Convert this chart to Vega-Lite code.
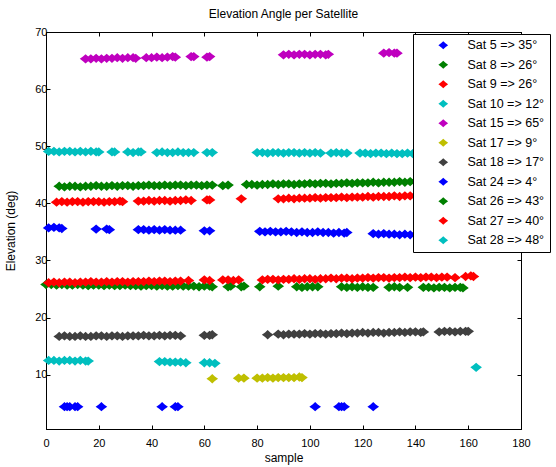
{
  "$schema": "https://vega.github.io/schema/vega-lite/v6.json",
  "width": 475,
  "height": 397,
  "autosize": "none",
  "padding": {"left": 46, "top": 32, "right": 35, "bottom": 38},
  "title": {
    "text": "Elevation Angle per Satellite",
    "fontSize": 12,
    "fontWeight": "normal",
    "font": "Liberation Sans",
    "color": "black",
    "offset": 5
  },
  "layer": [
    {
      "data": {
        "values": [
          {"k": 5, "x": 1, "y": 35.7}, {"k": 5, "x": 3, "y": 35.8}, {"k": 5, "x": 5, "y": 35.7}, {"k": 5, "x": 6, "y": 35.6},
          {"k": 5, "x": 19, "y": 35.5}, {"k": 5, "x": 23, "y": 35.5}, {"k": 5, "x": 24, "y": 35.4},
          {"k": 5, "x": 35, "y": 35.4}, {"k": 5, "x": 37, "y": 35.4}, {"k": 5, "x": 39, "y": 35.3}, {"k": 5, "x": 41, "y": 35.4},
          {"k": 5, "x": 43, "y": 35.3}, {"k": 5, "x": 45, "y": 35.4}, {"k": 5, "x": 47, "y": 35.3}, {"k": 5, "x": 49, "y": 35.3},
          {"k": 5, "x": 51, "y": 35.3}, {"k": 5, "x": 60, "y": 35.2}, {"k": 5, "x": 62, "y": 35.2},
          {"k": 5, "x": 81, "y": 35.1}, {"k": 5, "x": 83, "y": 35.0}, {"k": 5, "x": 85, "y": 35.1}, {"k": 5, "x": 87, "y": 35.0},
          {"k": 5, "x": 89, "y": 35.0}, {"k": 5, "x": 91, "y": 35.1}, {"k": 5, "x": 93, "y": 35.0}, {"k": 5, "x": 95, "y": 34.9},
          {"k": 5, "x": 97, "y": 35.0}, {"k": 5, "x": 99, "y": 34.9}, {"k": 5, "x": 101, "y": 34.9}, {"k": 5, "x": 103, "y": 35.0},
          {"k": 5, "x": 105, "y": 34.9}, {"k": 5, "x": 107, "y": 34.9}, {"k": 5, "x": 109, "y": 34.8}, {"k": 5, "x": 111, "y": 34.9},
          {"k": 5, "x": 113, "y": 34.8}, {"k": 5, "x": 114, "y": 34.9},
          {"k": 5, "x": 124, "y": 34.7}, {"k": 5, "x": 126, "y": 34.6}, {"k": 5, "x": 128, "y": 34.7}, {"k": 5, "x": 130, "y": 34.6},
          {"k": 5, "x": 132, "y": 34.6}, {"k": 5, "x": 134, "y": 34.5}, {"k": 5, "x": 136, "y": 34.6}, {"k": 5, "x": 138, "y": 34.5},
          {"k": 5, "x": 140, "y": 34.5}, {"k": 5, "x": 142, "y": 34.5}, {"k": 5, "x": 144, "y": 34.4}, {"k": 5, "x": 146, "y": 34.5},

          {"k": 8, "x": 0, "y": 25.8}, {"k": 8, "x": 2, "y": 25.8}, {"k": 8, "x": 4, "y": 25.7}, {"k": 8, "x": 6, "y": 25.8},
          {"k": 8, "x": 8, "y": 25.7}, {"k": 8, "x": 10, "y": 25.7}, {"k": 8, "x": 12, "y": 25.8}, {"k": 8, "x": 14, "y": 25.7},
          {"k": 8, "x": 16, "y": 25.6}, {"k": 8, "x": 18, "y": 25.7}, {"k": 8, "x": 20, "y": 25.7}, {"k": 8, "x": 22, "y": 25.6},
          {"k": 8, "x": 24, "y": 25.7}, {"k": 8, "x": 26, "y": 25.6}, {"k": 8, "x": 28, "y": 25.6}, {"k": 8, "x": 30, "y": 25.7},
          {"k": 8, "x": 32, "y": 25.6}, {"k": 8, "x": 34, "y": 25.6}, {"k": 8, "x": 36, "y": 25.5}, {"k": 8, "x": 38, "y": 25.6},
          {"k": 8, "x": 40, "y": 25.6}, {"k": 8, "x": 42, "y": 25.5}, {"k": 8, "x": 44, "y": 25.6}, {"k": 8, "x": 46, "y": 25.5},
          {"k": 8, "x": 48, "y": 25.5}, {"k": 8, "x": 50, "y": 25.6}, {"k": 8, "x": 52, "y": 25.5}, {"k": 8, "x": 54, "y": 25.5},
          {"k": 8, "x": 56, "y": 25.5}, {"k": 8, "x": 58, "y": 25.4}, {"k": 8, "x": 60, "y": 25.5}, {"k": 8, "x": 62, "y": 25.5},
          {"k": 8, "x": 63, "y": 25.4}, {"k": 8, "x": 69, "y": 25.4}, {"k": 8, "x": 70, "y": 25.5}, {"k": 8, "x": 74, "y": 25.4},
          {"k": 8, "x": 75, "y": 25.5}, {"k": 8, "x": 81, "y": 25.4}, {"k": 8, "x": 88, "y": 25.5},
          {"k": 8, "x": 95, "y": 25.4}, {"k": 8, "x": 97, "y": 25.3}, {"k": 8, "x": 99, "y": 25.4}, {"k": 8, "x": 101, "y": 25.4},
          {"k": 8, "x": 103, "y": 25.4}, {"k": 8, "x": 112, "y": 25.4}, {"k": 8, "x": 114, "y": 25.3}, {"k": 8, "x": 116, "y": 25.4},
          {"k": 8, "x": 118, "y": 25.3}, {"k": 8, "x": 120, "y": 25.4}, {"k": 8, "x": 122, "y": 25.3}, {"k": 8, "x": 124, "y": 25.3},
          {"k": 8, "x": 130, "y": 25.3}, {"k": 8, "x": 132, "y": 25.4}, {"k": 8, "x": 134, "y": 25.3}, {"k": 8, "x": 137, "y": 25.3},
          {"k": 8, "x": 143, "y": 25.3}, {"k": 8, "x": 145, "y": 25.3}, {"k": 8, "x": 147, "y": 25.2}, {"k": 8, "x": 149, "y": 25.3},
          {"k": 8, "x": 151, "y": 25.3}, {"k": 8, "x": 153, "y": 25.2}, {"k": 8, "x": 155, "y": 25.3}, {"k": 8, "x": 157, "y": 25.3},
          {"k": 8, "x": 158, "y": 25.2},

          {"k": 9, "x": 1, "y": 26.1}, {"k": 9, "x": 3, "y": 26.2}, {"k": 9, "x": 5, "y": 26.1}, {"k": 9, "x": 7, "y": 26.2},
          {"k": 9, "x": 9, "y": 26.2}, {"k": 9, "x": 11, "y": 26.1}, {"k": 9, "x": 13, "y": 26.2}, {"k": 9, "x": 15, "y": 26.2},
          {"k": 9, "x": 17, "y": 26.3}, {"k": 9, "x": 19, "y": 26.2}, {"k": 9, "x": 21, "y": 26.2}, {"k": 9, "x": 23, "y": 26.3},
          {"k": 9, "x": 25, "y": 26.2}, {"k": 9, "x": 27, "y": 26.3}, {"k": 9, "x": 29, "y": 26.3}, {"k": 9, "x": 31, "y": 26.2},
          {"k": 9, "x": 33, "y": 26.3}, {"k": 9, "x": 35, "y": 26.3}, {"k": 9, "x": 37, "y": 26.3}, {"k": 9, "x": 39, "y": 26.4},
          {"k": 9, "x": 41, "y": 26.3}, {"k": 9, "x": 43, "y": 26.4}, {"k": 9, "x": 45, "y": 26.4}, {"k": 9, "x": 47, "y": 26.3},
          {"k": 9, "x": 49, "y": 26.4}, {"k": 9, "x": 51, "y": 26.4}, {"k": 9, "x": 54, "y": 26.5},
          {"k": 9, "x": 60, "y": 26.6}, {"k": 9, "x": 62, "y": 26.5},
          {"k": 9, "x": 67, "y": 26.6}, {"k": 9, "x": 69, "y": 26.6}, {"k": 9, "x": 71, "y": 26.5}, {"k": 9, "x": 73, "y": 26.6},
          {"k": 9, "x": 82, "y": 26.6}, {"k": 9, "x": 84, "y": 26.7}, {"k": 9, "x": 86, "y": 26.7}, {"k": 9, "x": 88, "y": 26.6},
          {"k": 9, "x": 90, "y": 26.7}, {"k": 9, "x": 92, "y": 26.7}, {"k": 9, "x": 94, "y": 26.8}, {"k": 9, "x": 96, "y": 26.7},
          {"k": 9, "x": 98, "y": 26.8}, {"k": 9, "x": 100, "y": 26.8}, {"k": 9, "x": 102, "y": 26.7}, {"k": 9, "x": 104, "y": 26.8},
          {"k": 9, "x": 106, "y": 26.8}, {"k": 9, "x": 108, "y": 26.9}, {"k": 9, "x": 110, "y": 26.8}, {"k": 9, "x": 112, "y": 26.9},
          {"k": 9, "x": 114, "y": 26.9}, {"k": 9, "x": 116, "y": 26.8}, {"k": 9, "x": 118, "y": 26.9}, {"k": 9, "x": 120, "y": 26.9},
          {"k": 9, "x": 122, "y": 27.0}, {"k": 9, "x": 124, "y": 26.9}, {"k": 9, "x": 126, "y": 27.0}, {"k": 9, "x": 128, "y": 27.0},
          {"k": 9, "x": 130, "y": 26.9}, {"k": 9, "x": 132, "y": 27.0}, {"k": 9, "x": 134, "y": 27.0}, {"k": 9, "x": 136, "y": 27.1},
          {"k": 9, "x": 138, "y": 27.0}, {"k": 9, "x": 140, "y": 27.1}, {"k": 9, "x": 142, "y": 27.0}, {"k": 9, "x": 144, "y": 27.1},
          {"k": 9, "x": 146, "y": 27.1}, {"k": 9, "x": 148, "y": 27.0}, {"k": 9, "x": 150, "y": 27.1}, {"k": 9, "x": 152, "y": 27.1},
          {"k": 9, "x": 155, "y": 27.0}, {"k": 9, "x": 159, "y": 27.2}, {"k": 9, "x": 161, "y": 27.3}, {"k": 9, "x": 162, "y": 27.2},

          {"k": 10, "x": 1, "y": 12.5}, {"k": 10, "x": 3, "y": 12.5}, {"k": 10, "x": 5, "y": 12.4}, {"k": 10, "x": 7, "y": 12.5},
          {"k": 10, "x": 9, "y": 12.5}, {"k": 10, "x": 11, "y": 12.4}, {"k": 10, "x": 13, "y": 12.5}, {"k": 10, "x": 15, "y": 12.4},
          {"k": 10, "x": 16, "y": 12.4}, {"k": 10, "x": 43, "y": 12.3}, {"k": 10, "x": 45, "y": 12.3}, {"k": 10, "x": 47, "y": 12.2},
          {"k": 10, "x": 49, "y": 12.2}, {"k": 10, "x": 51, "y": 12.2}, {"k": 10, "x": 53, "y": 12.1},
          {"k": 10, "x": 60, "y": 12.1}, {"k": 10, "x": 62, "y": 12.1}, {"k": 10, "x": 64, "y": 12.0}, {"k": 10, "x": 163, "y": 11.3},

          {"k": 15, "x": 15, "y": 65.3}, {"k": 15, "x": 17, "y": 65.3}, {"k": 15, "x": 19, "y": 65.4}, {"k": 15, "x": 21, "y": 65.3},
          {"k": 15, "x": 23, "y": 65.4}, {"k": 15, "x": 25, "y": 65.4}, {"k": 15, "x": 27, "y": 65.5}, {"k": 15, "x": 29, "y": 65.4},
          {"k": 15, "x": 31, "y": 65.5}, {"k": 15, "x": 33, "y": 65.5}, {"k": 15, "x": 34, "y": 65.4},
          {"k": 15, "x": 38, "y": 65.5}, {"k": 15, "x": 40, "y": 65.5}, {"k": 15, "x": 42, "y": 65.6}, {"k": 15, "x": 44, "y": 65.5},
          {"k": 15, "x": 46, "y": 65.6}, {"k": 15, "x": 48, "y": 65.7}, {"k": 15, "x": 49, "y": 65.6},
          {"k": 15, "x": 55, "y": 65.7}, {"k": 15, "x": 56, "y": 65.7}, {"k": 15, "x": 61, "y": 65.6}, {"k": 15, "x": 62, "y": 65.7},
          {"k": 15, "x": 90, "y": 66.0}, {"k": 15, "x": 92, "y": 66.1}, {"k": 15, "x": 94, "y": 66.0}, {"k": 15, "x": 96, "y": 66.1},
          {"k": 15, "x": 98, "y": 66.1}, {"k": 15, "x": 100, "y": 66.0}, {"k": 15, "x": 102, "y": 66.1}, {"k": 15, "x": 104, "y": 66.1},
          {"k": 15, "x": 106, "y": 66.0}, {"k": 15, "x": 107, "y": 66.1},
          {"k": 15, "x": 128, "y": 66.3}, {"k": 15, "x": 130, "y": 66.4}, {"k": 15, "x": 132, "y": 66.3}, {"k": 15, "x": 133, "y": 66.3},

          {"k": 17, "x": 63, "y": 9.3}, {"k": 17, "x": 73, "y": 9.4}, {"k": 17, "x": 75, "y": 9.4}, {"k": 17, "x": 80, "y": 9.4},
          {"k": 17, "x": 82, "y": 9.4}, {"k": 17, "x": 84, "y": 9.5}, {"k": 17, "x": 86, "y": 9.4}, {"k": 17, "x": 88, "y": 9.5},
          {"k": 17, "x": 90, "y": 9.5}, {"k": 17, "x": 92, "y": 9.5}, {"k": 17, "x": 94, "y": 9.5}, {"k": 17, "x": 96, "y": 9.6},
          {"k": 17, "x": 97, "y": 9.5},

          {"k": 18, "x": 5, "y": 16.7}, {"k": 18, "x": 7, "y": 16.8}, {"k": 18, "x": 9, "y": 16.7}, {"k": 18, "x": 11, "y": 16.7},
          {"k": 18, "x": 13, "y": 16.8}, {"k": 18, "x": 15, "y": 16.7}, {"k": 18, "x": 17, "y": 16.7}, {"k": 18, "x": 19, "y": 16.8},
          {"k": 18, "x": 21, "y": 16.8}, {"k": 18, "x": 23, "y": 16.7}, {"k": 18, "x": 25, "y": 16.8}, {"k": 18, "x": 27, "y": 16.8},
          {"k": 18, "x": 29, "y": 16.7}, {"k": 18, "x": 31, "y": 16.8}, {"k": 18, "x": 33, "y": 16.8}, {"k": 18, "x": 35, "y": 16.8},
          {"k": 18, "x": 37, "y": 16.9}, {"k": 18, "x": 39, "y": 16.8}, {"k": 18, "x": 41, "y": 16.8}, {"k": 18, "x": 43, "y": 16.9},
          {"k": 18, "x": 45, "y": 16.8}, {"k": 18, "x": 47, "y": 16.9}, {"k": 18, "x": 49, "y": 16.9}, {"k": 18, "x": 51, "y": 16.8},
          {"k": 18, "x": 60, "y": 16.9}, {"k": 18, "x": 62, "y": 16.9}, {"k": 18, "x": 63, "y": 17.0}, {"k": 18, "x": 84, "y": 17.0},
          {"k": 18, "x": 88, "y": 17.1}, {"k": 18, "x": 90, "y": 17.0}, {"k": 18, "x": 92, "y": 17.1}, {"k": 18, "x": 94, "y": 17.1},
          {"k": 18, "x": 96, "y": 17.1}, {"k": 18, "x": 98, "y": 17.2}, {"k": 18, "x": 100, "y": 17.1}, {"k": 18, "x": 102, "y": 17.2},
          {"k": 18, "x": 104, "y": 17.2}, {"k": 18, "x": 106, "y": 17.1}, {"k": 18, "x": 108, "y": 17.2}, {"k": 18, "x": 110, "y": 17.2},
          {"k": 18, "x": 112, "y": 17.3}, {"k": 18, "x": 114, "y": 17.2}, {"k": 18, "x": 116, "y": 17.3}, {"k": 18, "x": 118, "y": 17.3},
          {"k": 18, "x": 120, "y": 17.4}, {"k": 18, "x": 122, "y": 17.3}, {"k": 18, "x": 124, "y": 17.4}, {"k": 18, "x": 126, "y": 17.4},
          {"k": 18, "x": 128, "y": 17.3}, {"k": 18, "x": 130, "y": 17.4}, {"k": 18, "x": 132, "y": 17.4}, {"k": 18, "x": 134, "y": 17.5},
          {"k": 18, "x": 136, "y": 17.4}, {"k": 18, "x": 138, "y": 17.5}, {"k": 18, "x": 140, "y": 17.5}, {"k": 18, "x": 142, "y": 17.4},
          {"k": 18, "x": 143, "y": 17.5}, {"k": 18, "x": 149, "y": 17.5}, {"k": 18, "x": 151, "y": 17.6}, {"k": 18, "x": 153, "y": 17.6},
          {"k": 18, "x": 155, "y": 17.5}, {"k": 18, "x": 157, "y": 17.6}, {"k": 18, "x": 159, "y": 17.6}, {"k": 18, "x": 160, "y": 17.6},

          {"k": 24, "x": 7, "y": 4.4}, {"k": 24, "x": 8, "y": 4.4}, {"k": 24, "x": 9, "y": 4.4}, {"k": 24, "x": 11, "y": 4.4},
          {"k": 24, "x": 12, "y": 4.4}, {"k": 24, "x": 21, "y": 4.4}, {"k": 24, "x": 44, "y": 4.4}, {"k": 24, "x": 49, "y": 4.4},
          {"k": 24, "x": 50, "y": 4.4}, {"k": 24, "x": 102, "y": 4.4}, {"k": 24, "x": 111, "y": 4.4}, {"k": 24, "x": 112, "y": 4.4},
          {"k": 24, "x": 113, "y": 4.4}, {"k": 24, "x": 124, "y": 4.4},

          {"k": 26, "x": 5, "y": 43.0}, {"k": 26, "x": 7, "y": 42.9}, {"k": 26, "x": 9, "y": 43.0}, {"k": 26, "x": 11, "y": 43.0},
          {"k": 26, "x": 13, "y": 42.9}, {"k": 26, "x": 15, "y": 43.0}, {"k": 26, "x": 17, "y": 43.0}, {"k": 26, "x": 19, "y": 43.1},
          {"k": 26, "x": 21, "y": 43.0}, {"k": 26, "x": 23, "y": 43.0}, {"k": 26, "x": 25, "y": 43.1}, {"k": 26, "x": 27, "y": 43.0},
          {"k": 26, "x": 29, "y": 43.1}, {"k": 26, "x": 31, "y": 43.1}, {"k": 26, "x": 33, "y": 43.0}, {"k": 26, "x": 35, "y": 43.1},
          {"k": 26, "x": 37, "y": 43.1}, {"k": 26, "x": 39, "y": 43.2}, {"k": 26, "x": 41, "y": 43.1}, {"k": 26, "x": 43, "y": 43.1},
          {"k": 26, "x": 45, "y": 43.2}, {"k": 26, "x": 47, "y": 43.1}, {"k": 26, "x": 49, "y": 43.2}, {"k": 26, "x": 51, "y": 43.2},
          {"k": 26, "x": 53, "y": 43.1}, {"k": 26, "x": 55, "y": 43.2}, {"k": 26, "x": 57, "y": 43.2}, {"k": 26, "x": 59, "y": 43.1},
          {"k": 26, "x": 61, "y": 43.2}, {"k": 26, "x": 63, "y": 43.2}, {"k": 26, "x": 67, "y": 43.1}, {"k": 26, "x": 69, "y": 43.2},
          {"k": 26, "x": 76, "y": 43.3}, {"k": 26, "x": 78, "y": 43.3}, {"k": 26, "x": 80, "y": 43.2}, {"k": 26, "x": 82, "y": 43.3},
          {"k": 26, "x": 84, "y": 43.3}, {"k": 26, "x": 86, "y": 43.4}, {"k": 26, "x": 88, "y": 43.3}, {"k": 26, "x": 90, "y": 43.4},
          {"k": 26, "x": 92, "y": 43.4}, {"k": 26, "x": 94, "y": 43.3}, {"k": 26, "x": 96, "y": 43.4}, {"k": 26, "x": 98, "y": 43.4},
          {"k": 26, "x": 100, "y": 43.5}, {"k": 26, "x": 102, "y": 43.4}, {"k": 26, "x": 104, "y": 43.5}, {"k": 26, "x": 106, "y": 43.5},
          {"k": 26, "x": 108, "y": 43.4}, {"k": 26, "x": 110, "y": 43.5}, {"k": 26, "x": 112, "y": 43.5}, {"k": 26, "x": 114, "y": 43.6},
          {"k": 26, "x": 116, "y": 43.5}, {"k": 26, "x": 118, "y": 43.6}, {"k": 26, "x": 120, "y": 43.6}, {"k": 26, "x": 122, "y": 43.6},
          {"k": 26, "x": 124, "y": 43.7}, {"k": 26, "x": 126, "y": 43.6}, {"k": 26, "x": 128, "y": 43.7}, {"k": 26, "x": 130, "y": 43.7},
          {"k": 26, "x": 132, "y": 43.7}, {"k": 26, "x": 134, "y": 43.8}, {"k": 26, "x": 136, "y": 43.7}, {"k": 26, "x": 138, "y": 43.8},
          {"k": 26, "x": 140, "y": 43.8}, {"k": 26, "x": 142, "y": 43.8}, {"k": 26, "x": 144, "y": 43.8}, {"k": 26, "x": 146, "y": 43.9},
          {"k": 26, "x": 148, "y": 43.8}, {"k": 26, "x": 150, "y": 43.9},

          {"k": 27, "x": 4, "y": 40.2}, {"k": 27, "x": 6, "y": 40.3}, {"k": 27, "x": 8, "y": 40.2}, {"k": 27, "x": 10, "y": 40.3},
          {"k": 27, "x": 12, "y": 40.3}, {"k": 27, "x": 14, "y": 40.2}, {"k": 27, "x": 16, "y": 40.3}, {"k": 27, "x": 18, "y": 40.3},
          {"k": 27, "x": 20, "y": 40.3}, {"k": 27, "x": 22, "y": 40.2}, {"k": 27, "x": 24, "y": 40.3}, {"k": 27, "x": 26, "y": 40.3},
          {"k": 27, "x": 28, "y": 40.4}, {"k": 27, "x": 29, "y": 40.3},
          {"k": 27, "x": 35, "y": 40.4}, {"k": 27, "x": 37, "y": 40.4}, {"k": 27, "x": 39, "y": 40.5}, {"k": 27, "x": 41, "y": 40.4},
          {"k": 27, "x": 43, "y": 40.5}, {"k": 27, "x": 45, "y": 40.5}, {"k": 27, "x": 47, "y": 40.4}, {"k": 27, "x": 49, "y": 40.5},
          {"k": 27, "x": 51, "y": 40.5}, {"k": 27, "x": 53, "y": 40.6}, {"k": 27, "x": 55, "y": 40.5},
          {"k": 27, "x": 61, "y": 40.6}, {"k": 27, "x": 62, "y": 40.6}, {"k": 27, "x": 74, "y": 40.8},
          {"k": 27, "x": 88, "y": 40.8}, {"k": 27, "x": 90, "y": 40.8}, {"k": 27, "x": 92, "y": 40.9}, {"k": 27, "x": 94, "y": 40.8},
          {"k": 27, "x": 96, "y": 40.9}, {"k": 27, "x": 98, "y": 40.9}, {"k": 27, "x": 100, "y": 40.9}, {"k": 27, "x": 102, "y": 41.0},
          {"k": 27, "x": 104, "y": 40.9}, {"k": 27, "x": 106, "y": 41.0}, {"k": 27, "x": 108, "y": 41.0}, {"k": 27, "x": 110, "y": 41.0},
          {"k": 27, "x": 112, "y": 41.1}, {"k": 27, "x": 114, "y": 41.0}, {"k": 27, "x": 116, "y": 41.1}, {"k": 27, "x": 118, "y": 41.1},
          {"k": 27, "x": 120, "y": 41.1}, {"k": 27, "x": 122, "y": 41.2}, {"k": 27, "x": 124, "y": 41.1}, {"k": 27, "x": 126, "y": 41.2},
          {"k": 27, "x": 128, "y": 41.2}, {"k": 27, "x": 130, "y": 41.2}, {"k": 27, "x": 132, "y": 41.3}, {"k": 27, "x": 134, "y": 41.2},
          {"k": 27, "x": 136, "y": 41.3}, {"k": 27, "x": 138, "y": 41.3}, {"k": 27, "x": 140, "y": 41.3}, {"k": 27, "x": 142, "y": 41.4},
          {"k": 27, "x": 144, "y": 41.3}, {"k": 27, "x": 146, "y": 41.4}, {"k": 27, "x": 148, "y": 41.4}, {"k": 27, "x": 150, "y": 41.4},

          {"k": 28, "x": 1, "y": 49.1}, {"k": 28, "x": 3, "y": 49.1}, {"k": 28, "x": 5, "y": 49.0}, {"k": 28, "x": 7, "y": 49.1},
          {"k": 28, "x": 9, "y": 49.1}, {"k": 28, "x": 11, "y": 49.0}, {"k": 28, "x": 13, "y": 49.1}, {"k": 28, "x": 15, "y": 49.0},
          {"k": 28, "x": 17, "y": 49.1}, {"k": 28, "x": 19, "y": 49.0}, {"k": 28, "x": 20, "y": 49.0},
          {"k": 28, "x": 25, "y": 49.0}, {"k": 28, "x": 26, "y": 49.0}, {"k": 28, "x": 31, "y": 49.0}, {"k": 28, "x": 33, "y": 48.9},
          {"k": 28, "x": 35, "y": 49.0}, {"k": 28, "x": 36, "y": 49.0},
          {"k": 28, "x": 42, "y": 48.9}, {"k": 28, "x": 44, "y": 49.0}, {"k": 28, "x": 46, "y": 48.9}, {"k": 28, "x": 48, "y": 48.9},
          {"k": 28, "x": 50, "y": 49.0}, {"k": 28, "x": 52, "y": 48.9}, {"k": 28, "x": 54, "y": 48.9}, {"k": 28, "x": 56, "y": 48.9},
          {"k": 28, "x": 61, "y": 48.9}, {"k": 28, "x": 63, "y": 48.9},
          {"k": 28, "x": 80, "y": 48.9}, {"k": 28, "x": 82, "y": 48.9}, {"k": 28, "x": 84, "y": 48.8}, {"k": 28, "x": 86, "y": 48.9},
          {"k": 28, "x": 88, "y": 48.9}, {"k": 28, "x": 90, "y": 48.8}, {"k": 28, "x": 92, "y": 48.9}, {"k": 28, "x": 94, "y": 48.9},
          {"k": 28, "x": 96, "y": 48.8}, {"k": 28, "x": 98, "y": 48.9}, {"k": 28, "x": 100, "y": 48.8}, {"k": 28, "x": 102, "y": 48.9},
          {"k": 28, "x": 104, "y": 48.8}, {"k": 28, "x": 108, "y": 48.8}, {"k": 28, "x": 110, "y": 48.9}, {"k": 28, "x": 112, "y": 48.8},
          {"k": 28, "x": 114, "y": 48.8}, {"k": 28, "x": 119, "y": 48.8}, {"k": 28, "x": 121, "y": 48.8}, {"k": 28, "x": 123, "y": 48.7},
          {"k": 28, "x": 125, "y": 48.8}, {"k": 28, "x": 127, "y": 48.8}, {"k": 28, "x": 129, "y": 48.7}, {"k": 28, "x": 131, "y": 48.8},
          {"k": 28, "x": 133, "y": 48.7}, {"k": 28, "x": 135, "y": 48.7}, {"k": 28, "x": 137, "y": 48.8}, {"k": 28, "x": 139, "y": 48.7},
          {"k": 28, "x": 141, "y": 48.7}, {"k": 28, "x": 143, "y": 48.7}, {"k": 28, "x": 145, "y": 48.7}, {"k": 28, "x": 147, "y": 48.6},
          {"k": 28, "x": 149, "y": 48.7}
        ]
      },
      "transform": [
        {
          "lookup": "k",
          "from": {
            "data": {
              "values": [
                {"k": 5, "label": "Sat 5 => 35°"},
                {"k": 8, "label": "Sat 8 => 26°"},
                {"k": 9, "label": "Sat 9 => 26°"},
                {"k": 10, "label": "Sat 10 => 12°"},
                {"k": 15, "label": "Sat 15 => 65°"},
                {"k": 17, "label": "Sat 17 => 9°"},
                {"k": 18, "label": "Sat 18 => 17°"},
                {"k": 24, "label": "Sat 24 => 4°"},
                {"k": 26, "label": "Sat 26 => 43°"},
                {"k": 27, "label": "Sat 27 => 40°"},
                {"k": 28, "label": "Sat 28 => 48°"}
              ]
            },
            "key": "k",
            "fields": ["label"]
          }
        }
      ],
      "mark": {
        "type": "point",
        "filled": true,
        "opacity": 1,
        "size": 135,
        "strokeWidth": 0,
        "shape": "M-1,0L-0.45,-0.4L0,-0.8L0.45,-0.4L1,0L0.45,0.4L0,0.8L-0.45,0.4Z"
      },
      "encoding": {
        "x": {
          "field": "x",
          "type": "quantitative",
          "title": "sample",
          "scale": {"domain": [0, 180], "nice": false, "zero": false},
          "axis": {"orient": "bottom", "values": [0, 20, 40, 60, 80, 100, 120, 140, 160, 180], "labelFlush": false, "labelPadding": 12, "titlePadding": 4}
        },
        "y": {
          "field": "y",
          "type": "quantitative",
          "title": "Elevation (deg)",
          "scale": {"domain": [0.5, 70], "nice": false, "zero": false},
          "axis": {"orient": "left", "values": [10, 20, 30, 40, 50, 60, 70], "labelFlush": false, "titlePadding": 17}
        },
        "color": {
          "field": "label",
          "type": "nominal",
          "sort": null,
          "scale": {
            "domain": ["Sat 5 => 35°", "Sat 8 => 26°", "Sat 9 => 26°", "Sat 10 => 12°", "Sat 15 => 65°", "Sat 17 => 9°", "Sat 18 => 17°", "Sat 24 => 4°", "Sat 26 => 43°", "Sat 27 => 40°", "Sat 28 => 48°"],
            "range": ["#0000ff", "#008000", "#ff0000", "#00bfbf", "#bf00bf", "#bfbf00", "#404040", "#0000ff", "#008000", "#ff0000", "#00bfbf"]
          },
          "legend": {
            "title": null,
            "orient": "none",
            "legendX": 367,
            "legendY": 2,
            "strokeColor": "black",
            "fillColor": "white",
            "padding": 5,
            "symbolOffset": 19,
            "labelOffset": 18,
            "rowPadding": 6.5,
            "labelFontSize": 12.5,
            "labelFont": "Liberation Sans",
            "labelColor": "black",
            "labelLimit": 200,
            "symbolType": "M-1,0L-0.45,-0.4L0,-0.8L0.45,-0.4L1,0L0.45,0.4L0,0.8L-0.45,0.4Z",
            "symbolSize": 95,
            "symbolStrokeWidth": 0
          }
        }
      }
    },
    {
      "data": {"values": [{"x": 0, "y": 10}]},
      "mark": {"type": "point", "opacity": 0},
      "encoding": {
        "x": {
          "field": "x",
          "type": "quantitative",
          "scale": {"domain": [0, 180], "nice": false, "zero": false},
          "axis": {"orient": "top", "values": [0, 20, 40, 60, 80, 100, 120, 140, 160, 180], "labels": false, "title": null}
        },
        "y": {
          "field": "y",
          "type": "quantitative",
          "scale": {"domain": [0.5, 70], "nice": false, "zero": false},
          "axis": {"orient": "right", "values": [10, 20, 30, 40, 50, 60, 70], "labels": false, "title": null}
        }
      }
    }
  ],
  "resolve": {"axis": {"x": "independent", "y": "independent"}},
  "config": {
    "font": "Liberation Sans",
    "view": {"stroke": "black", "strokeWidth": 1},
    "axis": {
      "grid": false,
      "domainColor": "black",
      "domainWidth": 1,
      "tickColor": "black",
      "tickSize": -4,
      "labelColor": "black",
      "labelFont": "Liberation Sans",
      "labelFontSize": 11,
      "labelPadding": 3,
      "titleColor": "black",
      "titleFont": "Liberation Sans",
      "titleFontSize": 12,
      "titleFontWeight": "normal"
    }
  }
}
